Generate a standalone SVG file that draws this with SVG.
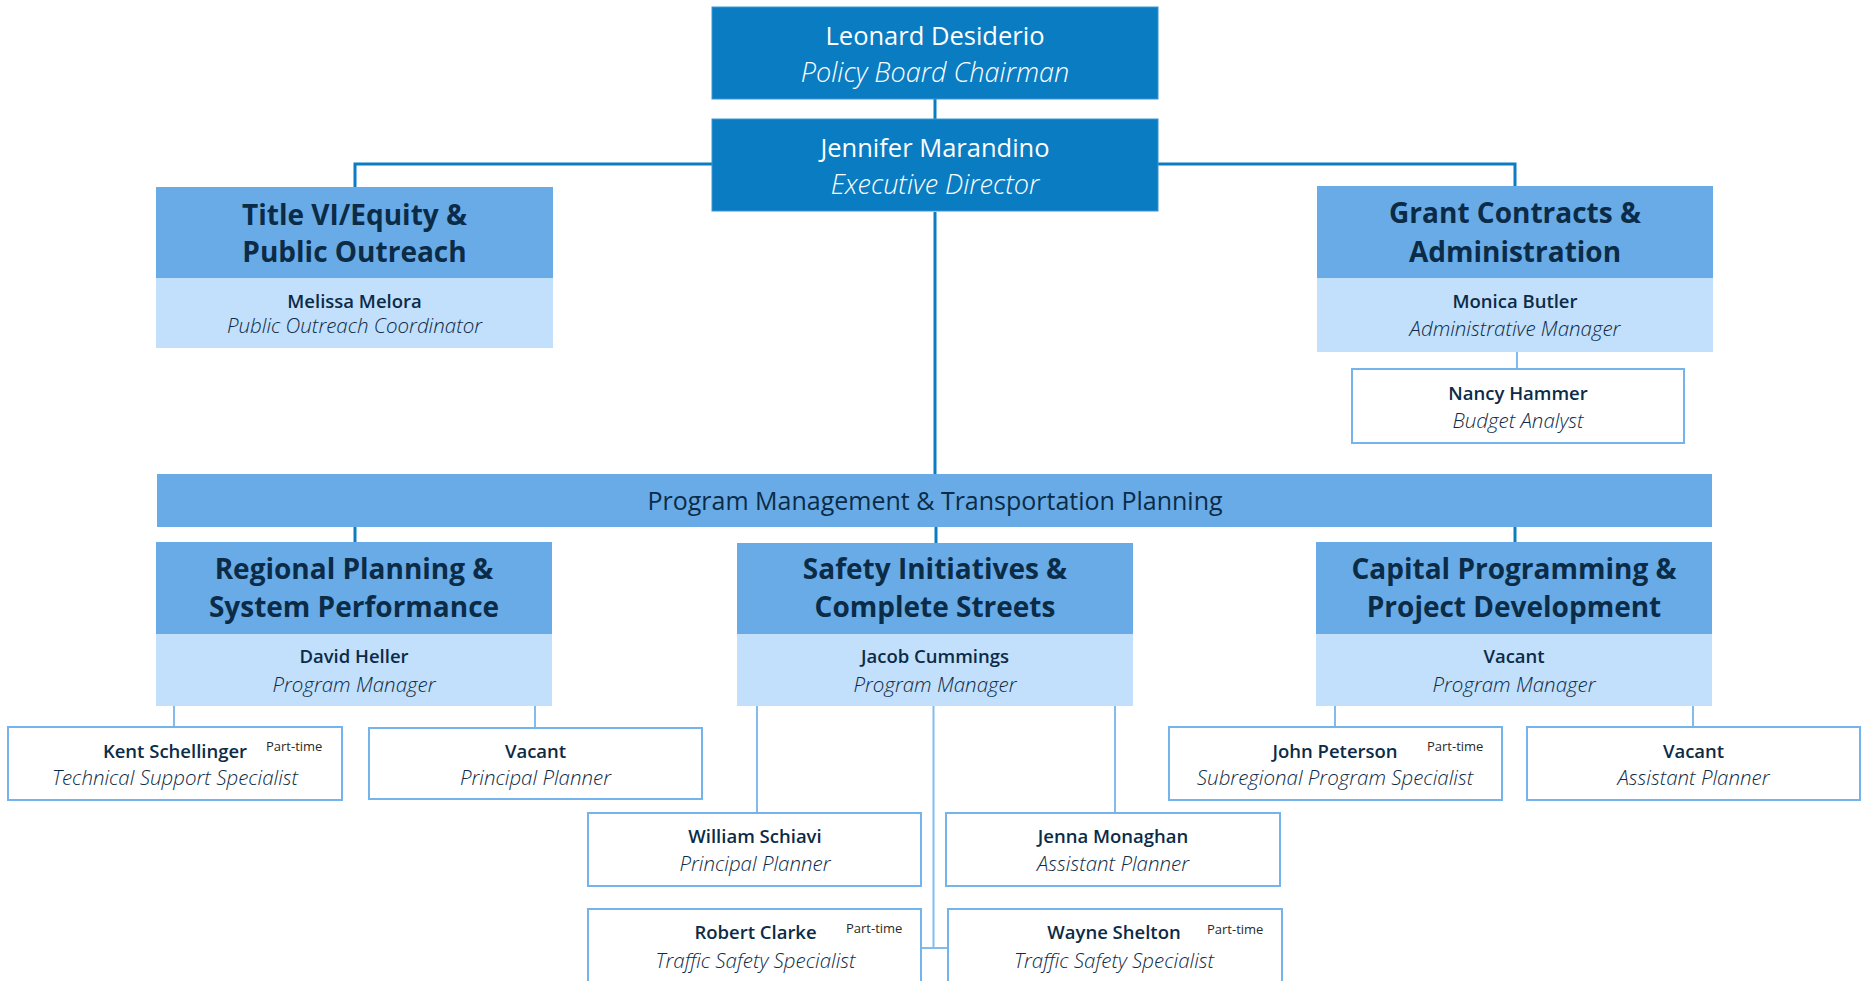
<svg xmlns="http://www.w3.org/2000/svg" width="1862" height="981" viewBox="0 0 1862 981">
<style>
text{font-family:"Open Sans","Liberation Sans",sans-serif;text-anchor:middle}
.dark{fill:#0A7CC2;stroke:#3A95D2;stroke-width:1}
.mid{fill:#68ABE6}
.light{fill:#C2DFFB}
.wbox{fill:#FFFFFF;stroke:#74B3EC;stroke-width:2}
.wname{font-size:25.5px;font-weight:400;fill:#FFFFFF}
.wrole{font-size:27px;font-style:italic;fill:#FFFFFF;font-weight:300}
.head{font-size:28px;font-weight:700;fill:#0C2B47}
.name{font-size:18.5px;font-weight:600;fill:#0C2B47}
.role{font-size:20.5px;font-style:italic;fill:#0C2B47;font-weight:300}
.pt{font-size:13px;fill:#2A2A2A;text-anchor:start}
.banner{font-size:25px;fill:#0C2B47}
.main{stroke:#0A7CC2;stroke-width:3;fill:none}
.sub{stroke:#82BCEE;stroke-width:2;fill:none}
</style>
<g id="connectors">
<line class="main" x1="935" y1="99" x2="935" y2="119"/>
<polyline class="main" points="355,187 355,164 712,164"/>
<polyline class="main" points="1158,164 1515,164 1515,187"/>
<line class="main" x1="935" y1="212" x2="935" y2="474"/>
<line class="main" x1="355" y1="527" x2="355" y2="543"/>
<line class="main" x1="936" y1="527" x2="936" y2="543"/>
<line class="main" x1="1515" y1="527" x2="1515" y2="543"/>
<line class="sub" x1="1517" y1="352" x2="1517" y2="369"/>
<line class="sub" x1="174" y1="706" x2="174" y2="727"/>
<line class="sub" x1="535" y1="706" x2="535" y2="727"/>
<line class="sub" x1="757" y1="706" x2="757" y2="813"/>
<line class="sub" x1="1115" y1="706" x2="1115" y2="813"/>
<line class="sub" x1="933.5" y1="706" x2="933.5" y2="948"/>
<line class="sub" x1="921" y1="948" x2="948" y2="948"/>
<line class="sub" x1="1335" y1="706" x2="1335" y2="727"/>
<line class="sub" x1="1693" y1="706" x2="1693" y2="727"/>
</g>
<g id="chairman">
<rect class="dark" x="712" y="7" width="446" height="92"/>
<text class="wname" x="935" y="45">Leonard Desiderio</text>
<text class="wrole" x="935" y="82">Policy Board Chairman</text>
</g>
<g id="director">
<rect class="dark" x="712" y="119" width="446" height="92"/>
<text class="wname" x="935" y="157">Jennifer Marandino</text>
<text class="wrole" x="935" y="194">Executive Director</text>
</g>
<g id="title-vi">
<rect class="mid" x="156" y="187" width="397" height="91"/>
<rect class="light" x="156" y="278" width="397" height="70"/>
<text class="head" x="354.5" y="225">Title VI/Equity &amp;</text>
<text class="head" x="354.5" y="262">Public Outreach</text>
<text class="name" x="354.5" y="308">Melissa Melora</text>
<text class="role" x="354.5" y="333">Public Outreach Coordinator</text>
</g>
<g id="grant">
<rect class="mid" x="1317" y="186" width="396" height="92"/>
<rect class="light" x="1317" y="278" width="396" height="74"/>
<text class="head" x="1515" y="223">Grant Contracts &amp;</text>
<text class="head" x="1515" y="262">Administration</text>
<text class="name" x="1515" y="308">Monica Butler</text>
<text class="role" x="1515" y="336">Administrative Manager</text>
</g>
<g id="nancy">
<rect class="wbox" x="1352" y="369" width="332" height="74"/>
<text class="name" x="1518" y="400">Nancy Hammer</text>
<text class="role" x="1518" y="428">Budget Analyst</text>
</g>
<g id="program-management">
<rect class="mid" x="157" y="474" width="1555" height="53"/>
<text class="banner" x="935" y="510">Program Management &amp; Transportation Planning</text>
</g>
<g id="regional">
<rect class="mid" x="156" y="542" width="396" height="92"/>
<rect class="light" x="156" y="634" width="396" height="72"/>
<text class="head" x="354" y="579">Regional Planning &amp;</text>
<text class="head" x="354" y="617">System Performance</text>
<text class="name" x="354" y="663">David Heller</text>
<text class="role" x="354" y="692">Program Manager</text>
</g>
<g id="safety">
<rect class="mid" x="737" y="543" width="396" height="91"/>
<rect class="light" x="737" y="634" width="396" height="72"/>
<text class="head" x="935" y="579">Safety Initiatives &amp;</text>
<text class="head" x="935" y="617">Complete Streets</text>
<text class="name" x="935" y="663">Jacob Cummings</text>
<text class="role" x="935" y="692">Program Manager</text>
</g>
<g id="capital">
<rect class="mid" x="1316" y="542" width="396" height="92"/>
<rect class="light" x="1316" y="634" width="396" height="72"/>
<text class="head" x="1514" y="579">Capital Programming &amp;</text>
<text class="head" x="1514" y="617">Project Development</text>
<text class="name" x="1514" y="663">Vacant</text>
<text class="role" x="1514" y="692">Program Manager</text>
</g>
<g id="kent">
<rect class="wbox" x="8" y="727" width="334" height="73"/>
<text class="name" x="175" y="758">Kent Schellinger</text>
<text class="pt" x="266" y="751">Part-time</text>
<text class="role" x="175" y="785">Technical Support Specialist</text>
</g>
<g id="vacant-principal">
<rect class="wbox" x="369" y="728" width="333" height="71"/>
<text class="name" x="535.5" y="758">Vacant</text>
<text class="role" x="535.5" y="785">Principal Planner</text>
</g>
<g id="william">
<rect class="wbox" x="588" y="813" width="333" height="73"/>
<text class="name" x="755" y="843">William Schiavi</text>
<text class="role" x="755" y="871">Principal Planner</text>
</g>
<g id="jenna">
<rect class="wbox" x="946" y="813" width="334" height="73"/>
<text class="name" x="1113" y="843">Jenna Monaghan</text>
<text class="role" x="1113" y="871">Assistant Planner</text>
</g>
<g id="robert">
<rect class="wbox" x="588" y="909" width="333" height="90"/>
<text class="name" x="755.5" y="939">Robert Clarke</text>
<text class="pt" x="846" y="933">Part-time</text>
<text class="role" x="755.5" y="968">Traffic Safety Specialist</text>
</g>
<g id="wayne">
<rect class="wbox" x="948" y="909" width="334" height="90"/>
<text class="name" x="1114" y="939">Wayne Shelton</text>
<text class="pt" x="1207" y="934">Part-time</text>
<text class="role" x="1114" y="968">Traffic Safety Specialist</text>
</g>
<g id="john">
<rect class="wbox" x="1169" y="727" width="333" height="73"/>
<text class="name" x="1335" y="758">John Peterson</text>
<text class="pt" x="1427" y="751">Part-time</text>
<text class="role" x="1335" y="785">Subregional Program Specialist</text>
</g>
<g id="vacant-assistant">
<rect class="wbox" x="1527" y="727" width="333" height="73"/>
<text class="name" x="1693.5" y="758">Vacant</text>
<text class="role" x="1693.5" y="785">Assistant Planner</text>
</g>
</svg>
